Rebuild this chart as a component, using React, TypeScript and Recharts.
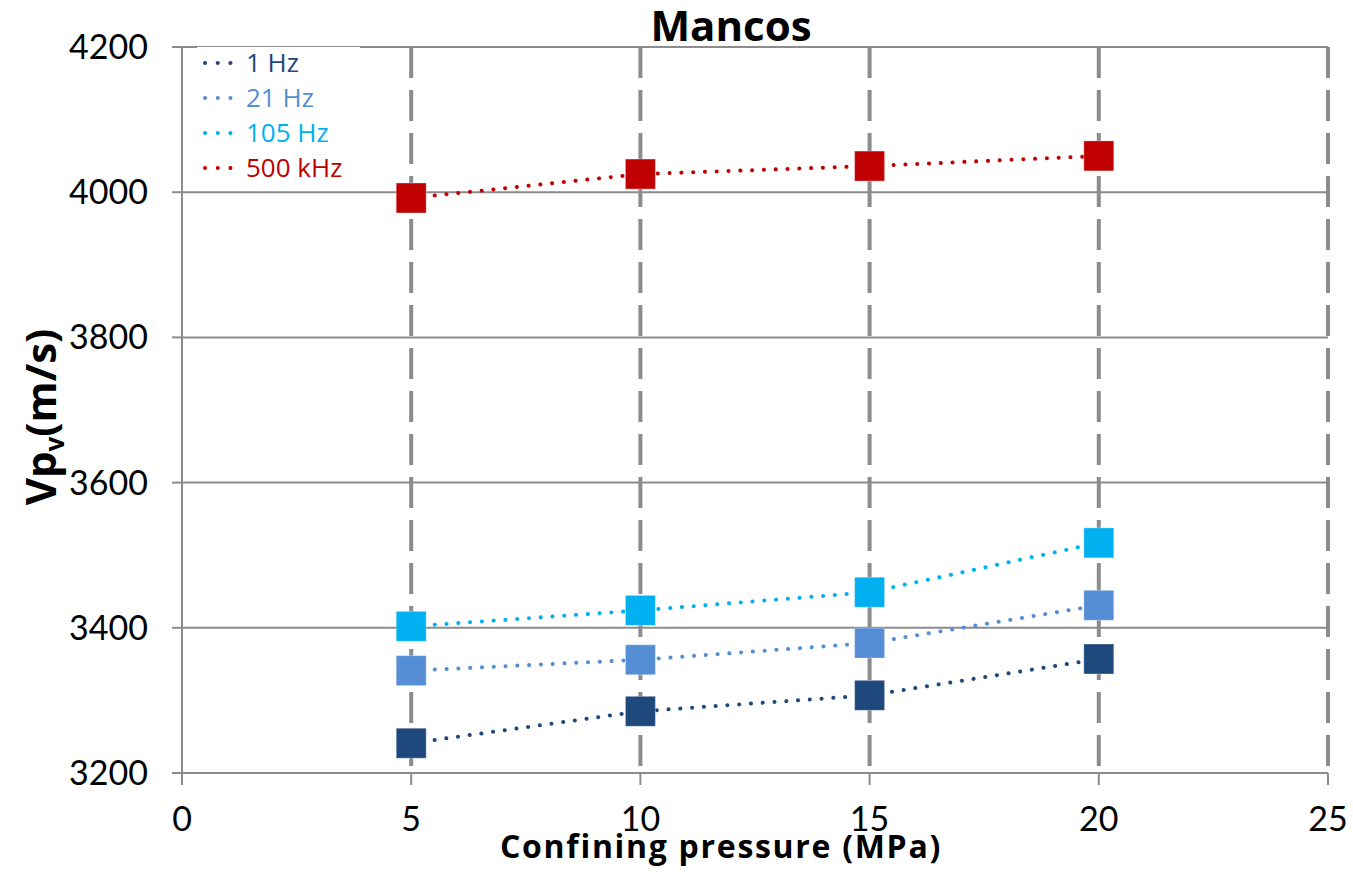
import React from 'react';
import { LineChart, Line, XAxis, YAxis, CartesianGrid, Legend, Customized } from 'recharts';

const pressures = [5, 10, 15, 20];
const hz1 = [3241, 3285, 3307, 3357];
const hz21 = [3341, 3356, 3379, 3431];
const hz105 = [3402, 3424, 3449, 3517];
const khz500 = [3992, 4025, 4036, 4050];
const xTicks = [0, 5, 10, 15, 20, 25];
const yTicks = [3200, 3400, 3600, 3800, 4000, 4200];

const seriesNames = ['1 Hz', '21 Hz', '105 Hz', '500 kHz'];
const seriesKeys = ['hz1', 'hz21', 'hz105', 'khz500'];
const seriesColors = ['#1F497D', '#558ED5', '#00B0F0', '#C00000'];

const data = pressures.map((p, i) => ({
  p,
  hz1: hz1[i],
  hz21: hz21[i],
  hz105: hz105[i],
  khz500: khz500[i],
}));

const FONT = 'Lato, "Open Sans", sans-serif';
const BOLD = '"Open Sans", Lato, sans-serif';
const GRID = '#8C8C8C';

const SquareDot = (color: string) => (props: any) => {
  const { cx, cy } = props;
  if (cx == null || cy == null) return null;
  const s = 30;
  return <rect x={cx - s / 2} y={cy - s / 2} width={s} height={s} fill={color} stroke="#ffffff" strokeOpacity={0.35} strokeWidth={1} />;
};

const LegendContent = () => (
  <div style={{ background: '#fff', width: 163, height: 143 }}>
    <svg width={163} height={143}>
      {seriesNames.map((n, i) => {
        const y = 16 + i * 35;
        return (
          <g key={n}>
            <line x1={8} x2={46} y1={y} y2={y} stroke={seriesColors[i]} strokeWidth={4} strokeLinecap="round" strokeDasharray="0.1 12.6" />
            <text x={49} y={y} dy="0.36em" fontSize={26} fill={seriesColors[i]} fontFamily={BOLD}>{n}</text>
          </g>
        );
      })}
    </svg>
  </div>
);

const Labels = () => (
  <g fontFamily={BOLD} fontWeight="bold" fill="#000">
    <text x={731} y={41} textAnchor="middle" fontSize={42}>Mancos</text>
    <text x={721} y={858} textAnchor="middle" fontSize={32} letterSpacing={1.7}>Confining pressure (MPa)</text>
    <text x={0} y={0} textAnchor="middle" fontSize={42} transform="translate(56 417) rotate(-90)">
      <tspan>Vp</tspan>
      <tspan fontSize={26} dy={8}>v</tspan>
      <tspan dy={-8}>(m/s)</tspan>
    </text>
  </g>
);

export default function App() {
  return (
    <div style={{ position: 'absolute', left: 0, top: 0, width: 1353, height: 877, background: '#fff' }}>
      <LineChart width={1353} height={877} data={data} margin={{ top: 47, right: 25, bottom: 44, left: 0 }}>
        <CartesianGrid vertical={false} stroke={GRID} strokeWidth={2} />
        <CartesianGrid
          horizontal={false}
          verticalValues={xTicks.filter((t) => t > 0)}
          stroke={GRID}
          strokeWidth={4}
          strokeDasharray="31 12"
        />
        <XAxis
          dataKey="p"
          type="number"
          domain={[0, 25]}
          ticks={xTicks}
          height={60}
          stroke={GRID}
          strokeWidth={2}
          tickSize={12}
          tickMargin={22}
          tick={{ fill: '#000', fontSize: 34, fontFamily: FONT }}
          tickLine={{ stroke: GRID, strokeWidth: 2 }}
        />
        <YAxis
          type="number"
          domain={[3200, 4200]}
          ticks={yTicks}
          width={182}
          stroke={GRID}
          strokeWidth={2}
          tickSize={10}
          tickMargin={24}
          tick={{ fill: '#000', fontSize: 34, fontFamily: FONT }}
          tickLine={{ stroke: GRID, strokeWidth: 2 }}
        />
        <Legend
          content={<LegendContent />}
          layout="horizontal"
          verticalAlign="middle"
          align="center"
          wrapperStyle={{ position: 'absolute', left: 197, top: 47, width: 163, height: 143 }}
        />
        {seriesKeys.map((k, i) => (
          <Line
            key={k}
            dataKey={k}
            name={seriesNames[i]}
            stroke={seriesColors[i]}
            strokeWidth={4}
            strokeLinecap="round"
            strokeDasharray="0.1 11.7"
            type="linear"
            dot={SquareDot(seriesColors[i])}
            activeDot={false}
            isAnimationActive={false}
          />
        ))}
        <Customized component={Labels} />
      </LineChart>
    </div>
  );
}
